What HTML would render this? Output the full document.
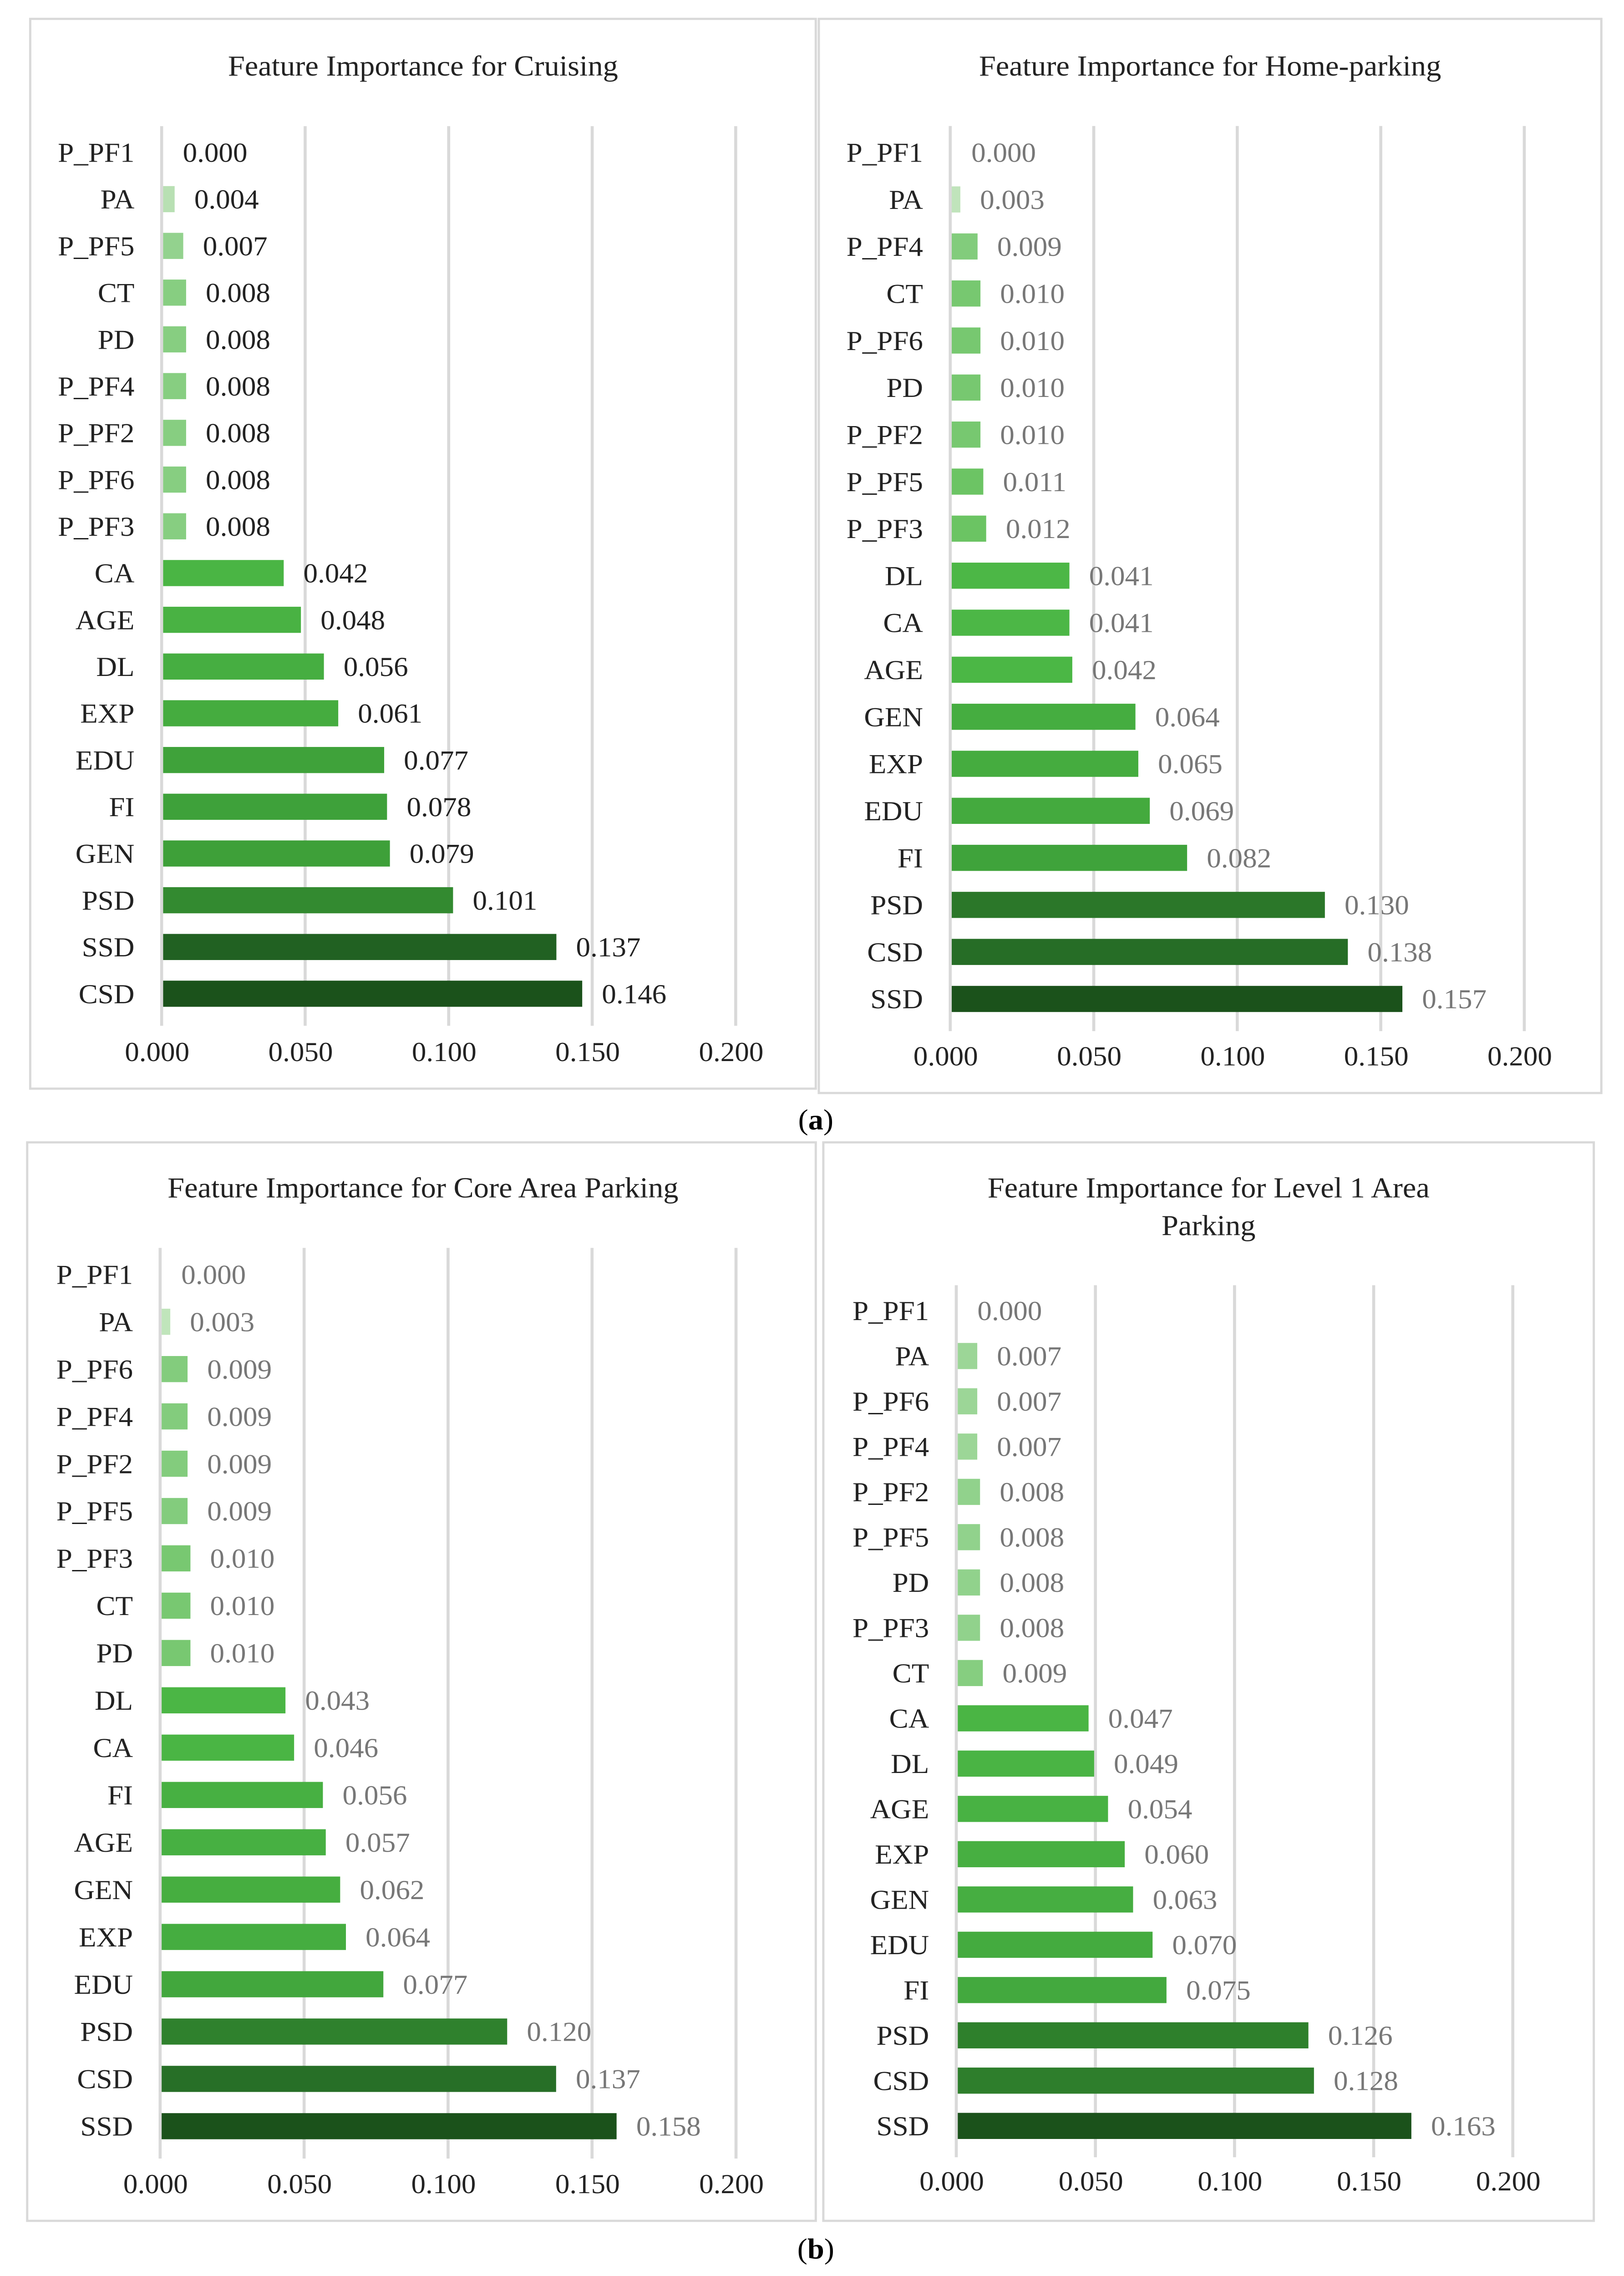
<!DOCTYPE html>
<html><head><meta charset="utf-8">
<style>
html,body{margin:0;padding:0;background:#fff;width:100%;height:100%;overflow:hidden;}
svg{display:block;position:fixed;left:0;top:0;width:100vw;height:100vh;}
text{font-family:"Liberation Serif",serif;}
</style></head>
<body>
<svg id="fig" viewBox="0 0 1075 1568" preserveAspectRatio="none" xmlns="http://www.w3.org/2000/svg">
<rect x="0" y="0" width="1075" height="1568" fill="#fff"/>
<text x="540" y="778" text-anchor="middle" font-size="20">(<tspan font-weight="bold">a</tspan>)</text>
<text x="540" y="1556" text-anchor="middle" font-size="20">(<tspan font-weight="bold">b</tspan>)</text>
</svg>
<script>
// Panel data
const cruisingCats = ["P_PF1","PA","P_PF5","CT","PD","P_PF4","P_PF2","P_PF6","P_PF3","CA","AGE","DL","EXP","EDU","FI","GEN","PSD","SSD","CSD"];
const cruisingVals = [0.000,0.004,0.007,0.008,0.008,0.008,0.008,0.008,0.008,0.042,0.048,0.056,0.061,0.077,0.078,0.079,0.101,0.137,0.146];
const homeCats = ["P_PF1","PA","P_PF4","CT","P_PF6","PD","P_PF2","P_PF5","P_PF3","DL","CA","AGE","GEN","EXP","EDU","FI","PSD","CSD","SSD"];
const homeVals = [0.000,0.003,0.009,0.010,0.010,0.010,0.010,0.011,0.012,0.041,0.041,0.042,0.064,0.065,0.069,0.082,0.130,0.138,0.157];
const coreCats = ["P_PF1","PA","P_PF6","P_PF4","P_PF2","P_PF5","P_PF3","CT","PD","DL","CA","FI","AGE","GEN","EXP","EDU","PSD","CSD","SSD"];
const coreVals = [0.000,0.003,0.009,0.009,0.009,0.009,0.010,0.010,0.010,0.043,0.046,0.056,0.057,0.062,0.064,0.077,0.120,0.137,0.158];
const level1Cats = ["P_PF1","PA","P_PF6","P_PF4","P_PF2","P_PF5","PD","P_PF3","CT","CA","DL","AGE","EXP","GEN","EDU","FI","PSD","CSD","SSD"];
const level1Vals = [0.000,0.007,0.007,0.007,0.008,0.008,0.008,0.008,0.009,0.047,0.049,0.054,0.060,0.063,0.070,0.075,0.126,0.128,0.163];
const tickVals = [0, 0.05, 0.1, 0.15, 0.2];
const tickLabels = ["0.000","0.050","0.100","0.150","0.200"];

const NS = "http://www.w3.org/2000/svg";
const svg = document.getElementById("fig");
function mk(tag, attrs, parent){
  const e = document.createElementNS(NS, tag);
  for (const k in attrs) e.setAttribute(k, attrs[k]);
  (parent||svg).appendChild(e);
  return e;
}
function hex(c){return [parseInt(c.slice(1,3),16),parseInt(c.slice(3,5),16),parseInt(c.slice(5,7),16)];}
const stops=[[0,"#d4eecf"],[0.03,"#b5dfb0"],[0.05,"#8fd18a"],[0.07,"#6cc464"],[0.25,"#4cb846"],[0.5,"#41a63c"],[0.65,"#359032"],[0.8,"#2d7c2b"],[0.92,"#236524"],[1,"#1b521b"]];
function color(f){
  for(let i=1;i<stops.length;i++){
    if(f<=stops[i][0]){
      const a=hex(stops[i-1][1]),b=hex(stops[i][1]);
      const t=(f-stops[i-1][0])/(stops[i][0]-stops[i-1][0]);
      return "rgb("+a.map((v,j)=>Math.round(v+(b[j]-v)*t)).join(",")+")";
    }
  }
  return stops[stops.length-1][1];
}

function panel(cfg){
  const g = mk("g",{});
  
  
  const border = mk("rect",{x:cfg.bx,y:cfg.by,width:cfg.bw,height:cfg.bh,fill:"none",stroke:"#d9d9d9","stroke-width":1.5},g);
  
  
  cfg.title.forEach((t,i)=>{
    const tt = mk("text",{x:cfg.tx,y:cfg.ty+i*26,"text-anchor":"middle","font-size":20,fill:"#222"},g);
    tt.textContent=t;
    
    
  });
  const xs = v => cfg.x0 + v*cfg.ppu;
  const ys = i => cfg.y0 + i*cfg.step;
  const gTop = ys(0)-cfg.step/2-2, gBot = ys(cfg.cats.length-1)+cfg.step/2+6;
  tickVals.forEach((v,i)=>{
    if(i>0){
      const gl = mk("line",{x1:xs(v),x2:xs(v),y1:gTop,y2:gBot,stroke:"#d9d9d9","stroke-width":2},g);
      
      
    }
    const tl = mk("text",{x:xs(v)-3,y:cfg.tickY,"text-anchor":"middle","font-size":19,fill:"#222"},g);
    tl.textContent = tickLabels[i];
    
    
  });
  const ax = mk("line",{x1:xs(0),x2:xs(0),y1:gTop,y2:gBot,stroke:"#d9d9d9","stroke-width":2},g);
  
  
  const maxV = Math.max(...cfg.vals);
  cfg.cats.forEach((c,i)=>{
    const v = cfg.vals[i], y = ys(i);
    const lab = mk("text",{x:cfg.labelX,y:y+6.5,"text-anchor":"end","font-size":19,fill:"#222"},g);
    lab.textContent=c;
    
    
    if(v>0){
      const b = mk("rect",{x:xs(0)+1,y:y-9,width:v*cfg.ppu,height:18,fill:color(v/maxV)},g);
      
      
    }
    const vl = mk("text",{x:xs(v)+14,y:y+6.5,"font-size":19,fill:cfg.valColor},g);
    vl.textContent = v.toFixed(3);
    
    
  });
}

panel({name:"chart-cruising",cats:cruisingCats,vals:cruisingVals,bx:20,by:13,bw:520,bh:737,title:["Feature Importance for Cruising"],tx:280,ty:52,x0:107,ppu:1900,y0:105,step:32.2,tickY:731,labelX:89,valColor:"#222"});
panel({name:"chart-home-parking",cats:homeCats,vals:homeVals,bx:542,by:13,bw:518,bh:740,title:["Feature Importance for Home-parking"],tx:801,ty:52,x0:629,ppu:1900,y0:105,step:32.4,tickY:734,labelX:611,valColor:"#777"});
panel({name:"chart-core-area-parking",cats:coreCats,vals:coreVals,bx:18,by:787,bw:522,bh:743,title:["Feature Importance for Core Area Parking"],tx:280,ty:825,x0:106,ppu:1906,y0:878,step:32.6,tickY:1511,labelX:88,valColor:"#777"});
panel({name:"chart-level1-area-parking",cats:level1Cats,vals:level1Vals,bx:545,by:787,bw:510,bh:743,title:["Feature Importance for Level 1 Area","Parking"],tx:800,ty:825,x0:633,ppu:1842,y0:903,step:31.2,tickY:1509,labelX:615,valColor:"#777"});
</script>
</body></html>
